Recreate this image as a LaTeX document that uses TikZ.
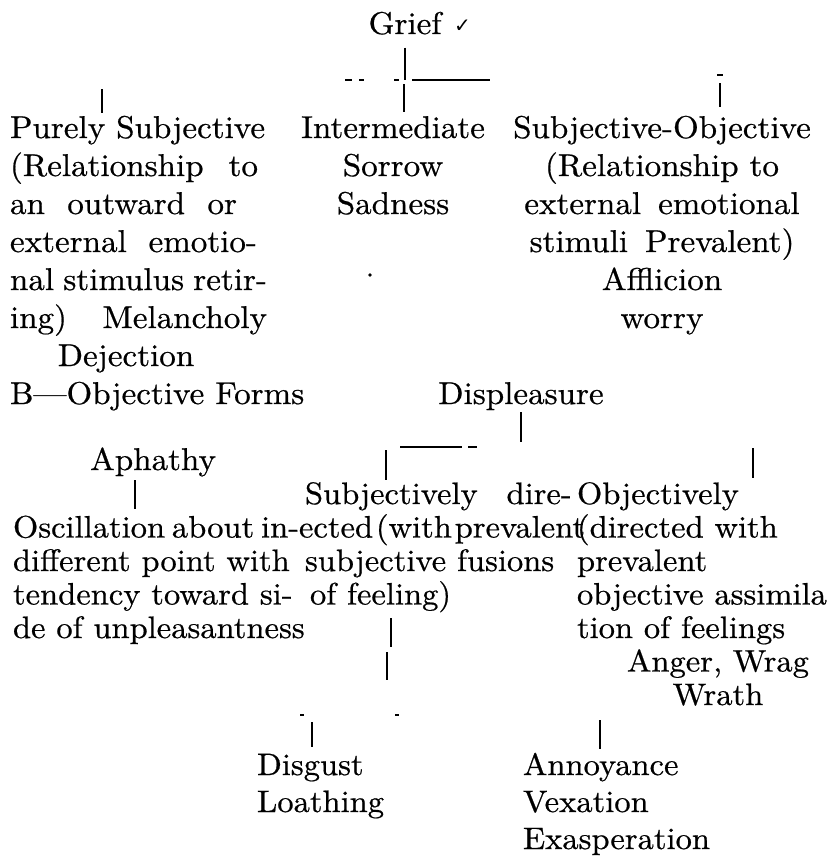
\documentclass[tikz,border=0pt]{standalone}
\usepackage{fontspec}
\setmainfont{lmroman10-regular.otf}[FakeStretch=1.05, FakeBold=0.6]
\newfontfamily\symfont{DejaVu Sans}
\usetikzlibrary{positioning}
\newcommand{\topstrut}{\rule{0pt}{24pt}}
\newcommand{\jline}[2]{\makebox[#1][s]{#2}}

\tikzset{
  txt/.style={inner sep=0pt, outer sep=0pt, font=\fontsize{31.5}{38}\selectfont},
  tight/.style={inner sep=0pt, outer sep=0pt, font=\fontsize{31}{33.5}\selectfont},
  low/.style={inner sep=0pt, outer sep=0pt, font=\fontsize{31}{37}\selectfont},
  link/.style={line width=1.6pt},
  faint/.style={line width=1.1pt}
}

\begin{document}
\begin{tikzpicture}[x=1pt,y=-1pt]
  \useasboundingbox (0,0) rectangle (831,859);

  %% Grief
  \node[txt, anchor=north] (grief) at (405,10) {\topstrut Grief};
  \node[anchor=base west, inner sep=0pt, font=\symfont\fontsize{20}{20}\selectfont] (tick) at (454,33) {✓};

  \node[txt, anchor=north west, align=left] (pure) at (10,114)
    {\topstrut Purely Subjective\\\jline{248pt}{(Relationship to}\\\jline{227pt}{an outward or}\\\jline{247pt}{external emotio-}\\\jline{257pt}{nal stimulus retir-}\\\jline{257pt}{ing) Melancholy}};
  \node[txt, anchor=north] (dejection) at (126,342) {\topstrut Dejection};
  \node[txt, anchor=north west] (bobj) at (10,380) {\topstrut B---Objective Forms};

  \node[txt, anchor=north, align=center] (inter) at (393,114)
    {\topstrut Intermediate\\Sorrow\\Sadness};
  \node[txt, anchor=north, align=center] (subobj) at (662,114)
    {\topstrut Subjective-Objective\\(Relationship to\\external\hspace{6pt} emotional\\stimuli\hspace{6pt} Prevalent)\\Afflicion\\worry};

  %% Grief links
  \coordinate (busL) at (345,80);
  \coordinate (busR) at (490,80);
  \coordinate (interTop) at (404,84);
  \coordinate (pureTop) at (102,89);
  \coordinate (subobjTop) at (720,83);
  \coordinate (subobjMark) at (717,75);
  \draw[link] ([yshift=-13pt]grief.south) -- (grief.south |- busL);
  \draw[faint, dash pattern=on 7pt off 7pt on 5pt off 30pt on 5pt off 13pt on 80pt] (busL) -- (busR);
  \draw[link, shorten >=2pt] (interTop) -- (interTop |- inter.north);
  \draw[link, shorten >=1pt] (pureTop) -- (pureTop |- pure.north);
  \draw[link, shorten >=7pt] (subobjTop) -- (subobjTop |- subobj.north);
  \draw[faint] (subobjMark) -- ++(6,0);
  \fill (370,275) circle (1.8pt);

  %% Displeasure
  \node[txt, anchor=north] (displeasure) at (521,380) {\topstrut Displeasure};
  \node[txt, anchor=north] (aphathy) at (153,446) {\topstrut Aphathy};
  \node[tight, anchor=north west, align=left] (oscill) at (13,513.5)
    {\topstrut Oscillation\hspace{-4pt} about\hspace{-4pt} in-\\different point with\\tendency toward si-\\de of unpleasantness};
  \node[tight, anchor=north west, align=left] (subj) at (305,480)
    {\topstrut Subjectively\hspace{18pt} dire-\\\hspace*{-6pt}ected\hspace{-8pt} (with\hspace{-8pt} prevalent\\subjective fusions\\\hspace*{5pt}of feeling)};
  \node[tight, anchor=north west, align=left] (obj) at (577,480)
    {\topstrut Objectively\\(directed with\\prevalent\\objective assimila\\tion of feelings};
  \node[tight, anchor=north, align=center] (anger) at (718,647.5)
    {\topstrut Anger, Wrag\\Wrath};

  \coordinate (dispBus) at (521,442);
  \coordinate (lbusL) at (400,447);
  \coordinate (lbusR) at (477,447);
  \coordinate (subjTop) at (386,450);
  \coordinate (objTop) at (753,448);
  \coordinate (aphBot) at (135,480);
  \draw[link] ([yshift=-2pt]displeasure.south) -- (dispBus);
  \draw[faint, dash pattern=on 62pt off 6pt on 9pt] (lbusL) -- (lbusR);
  \draw[link] (subjTop) -- (subjTop |- subj.north);
  \draw[link, shorten >=2pt] (objTop) -- (objTop |- obj.north);
  \draw[link, shorten >=5pt] (aphBot) -- (aphBot |- oscill.north);

  %% Disgust / Annoyance
  \node[low, anchor=north west, align=left] (disgust) at (257,751)
    {\topstrut Disgust\\Loathing};
  \node[low, anchor=north west, align=left] (annoy) at (523,751)
    {\topstrut Annoyance\\Vexation\\Exasperation};

  \coordinate (feelTop) at (391,618);
  \coordinate (feelMid) at (387,652);
  \coordinate (dashA) at (300,715);
  \coordinate (dashB) at (395,715);
  \coordinate (disTop) at (312,722);
  \coordinate (annTop) at (600,720);
  \draw[link] (feelTop) -- ++(0,29);
  \draw[link] (feelMid) -- ++(0,28);
  \draw[faint] (dashA) -- ++(4,0);
  \draw[faint] (dashB) -- ++(4,0);
  \draw[link, shorten >=4pt] (disTop) -- (disTop |- disgust.north);
  \draw[link, shorten >=2pt] (annTop) -- (annTop |- annoy.north);
\end{tikzpicture}
\end{document}
